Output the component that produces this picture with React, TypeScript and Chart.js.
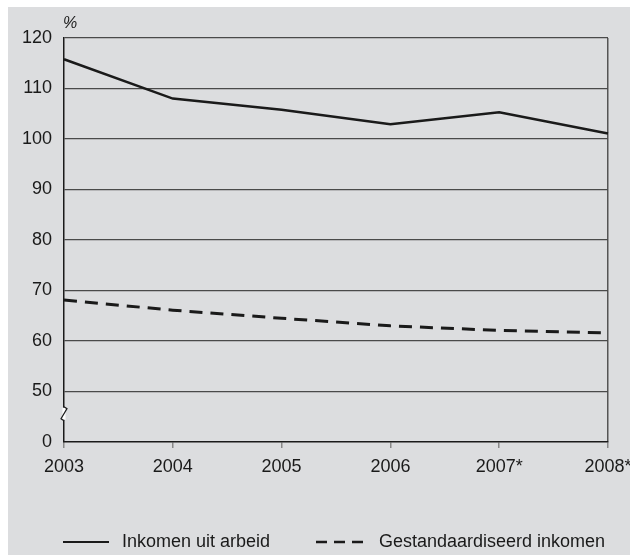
import React, { useEffect, useRef } from "react";
import { Chart, registerables } from "chart.js";

Chart.register(...registerables);

const years = ["2003", "2004", "2005", "2006", "2007*", "2008*"];
const inkomenUitArbeid = [115.8, 108.0, 105.8, 102.9, 105.3, 101.1];
const gestandaardiseerdInkomen = [68.1, 66.1, 64.5, 63.0, 62.1, 61.6];
const yTicks = [40, 50, 60, 70, 80, 90, 100, 110, 120];
const yTickLabels = ["0", "50", "60", "70", "80", "90", "100", "110", "120"];

const FONT = "'Liberation Sans', Arial, sans-serif";
const BG = "#dcdddf";

const breakPlugin = {
  id: "axisBreak",
  afterDraw(chart: any) {
    const ctx = chart.ctx;
    const y = chart.scales.y;
    const x0 = chart.chartArea.left;
    const yTop = y.getPixelForValue(46.8);
    const yBot = y.getPixelForValue(44.4);
    ctx.save();
    ctx.fillStyle = "#ffffff";
    ctx.fillRect(x0 - 1.5, yTop, 3, yBot - yTop);
    ctx.strokeStyle = "#1a1a1a";
    ctx.lineWidth = 1.2;
    ctx.beginPath();
    ctx.moveTo(x0, yTop - 1);
    ctx.lineTo(x0 + 3, yTop + 1);
    ctx.lineTo(x0 - 3, yBot - 1);
    ctx.lineTo(x0, yBot + 1);
    ctx.stroke();
    ctx.restore();
  },
};

export default function App() {
  const ref = useRef<HTMLCanvasElement>(null);

  useEffect(() => {
    document.body.style.margin = "0";
    const chart = new Chart(ref.current!, {
      type: "line",
      data: {
        labels: years,
        datasets: [
          {
            label: "Inkomen uit arbeid",
            data: inkomenUitArbeid,
            borderColor: "#1a1a1a",
            borderWidth: 2.5,
            pointRadius: 0,
            tension: 0,
          },
          {
            label: "Gestandaardiseerd inkomen",
            data: gestandaardiseerdInkomen,
            borderColor: "#1a1a1a",
            borderWidth: 3,
            borderDash: [13, 8],
            pointRadius: 0,
            tension: 0,
          },
        ],
      },
      options: {
        animation: false,
        responsive: false,
        maintainAspectRatio: false,
        layout: { padding: { left: 0, right: 22, top: 38, bottom: 0 } },
        plugins: { legend: { display: false }, tooltip: { enabled: false } },
        scales: {
          x: {
            offset: false,
            grid: {
              drawOnChartArea: true,
              color: (c: any) => (c.index === years.length - 1 ? "#555555" : "rgba(0,0,0,0)"),
              tickColor: "#888888",
              tickLength: 6,
              lineWidth: 1.5,
            },
            border: { color: "#1a1a1a", width: 1.5 },
            ticks: {
              color: "#1a1a1a",
              font: { family: FONT, size: 18 },
              padding: 8,
              maxRotation: 0,
              autoSkip: false,
            },
            afterFit: (s: any) => {
              s.height = 113;
              s.paddingLeft = 0;
              s.paddingRight = 0;
            },
          },
          y: {
            min: 40,
            max: 120,
            afterBuildTicks: (s: any) => {
              s.ticks = yTicks.map((v) => ({ value: v }));
            },
            grid: {
              color: (c: any) => (c.tick && c.tick.value === 40 ? "rgba(0,0,0,0)" : "#4a4a4a"),
              lineWidth: 1.2,
              drawTicks: false,
            },
            border: { color: "#1a1a1a", width: 1.5 },
            ticks: {
              color: "#1a1a1a",
              font: { family: FONT, size: 18 },
              padding: 12,
              callback: (v: any) => {
                const i = yTicks.indexOf(Number(v));
                return i >= 0 ? yTickLabels[i] : "";
              },
            },
            afterFit: (s: any) => {
              s.width = 64;
              s.paddingTop = 0;
              s.paddingBottom = 0;
            },
          },
        },
      },
      plugins: [breakPlugin],
    });
    return () => chart.destroy();
  }, []);

  return (
    <div style={{ position: "relative", width: 630, height: 555, background: "#ffffff", overflow: "hidden" }}>
      <div style={{ position: "absolute", left: 8, top: 7, width: 622, height: 548, background: BG }} />
      <canvas ref={ref} width={630} height={555} style={{ position: "absolute", left: 0, top: 0, width: 630, height: 555 }} />
      <div
        style={{
          position: "absolute",
          left: 63,
          top: 14,
          fontFamily: FONT,
          fontStyle: "italic",
          fontSize: 16,
          color: "#1a1a1a",
        }}
      >
        %
      </div>
      <div
        style={{
          position: "absolute",
          left: 0,
          top: 531,
          width: 630,
          height: 24,
          fontFamily: FONT,
          fontSize: 18,
          color: "#1a1a1a",
        }}
      >
        <svg style={{ position: "absolute", left: 63, top: 9 }} width={46} height={4}>
          <line x1={0} y1={2} x2={46} y2={2} stroke="#1a1a1a" strokeWidth={2} />
        </svg>
        <span style={{ position: "absolute", left: 122, top: 0, whiteSpace: "nowrap" }}>Inkomen uit arbeid</span>
        <svg style={{ position: "absolute", left: 316, top: 9 }} width={48} height={4}>
          <line x1={0} y1={2} x2={48} y2={2} stroke="#1a1a1a" strokeWidth={2.5} strokeDasharray="11 7" />
        </svg>
        <span style={{ position: "absolute", left: 379, top: 0, whiteSpace: "nowrap" }}>Gestandaardiseerd inkomen</span>
      </div>
    </div>
  );
}
